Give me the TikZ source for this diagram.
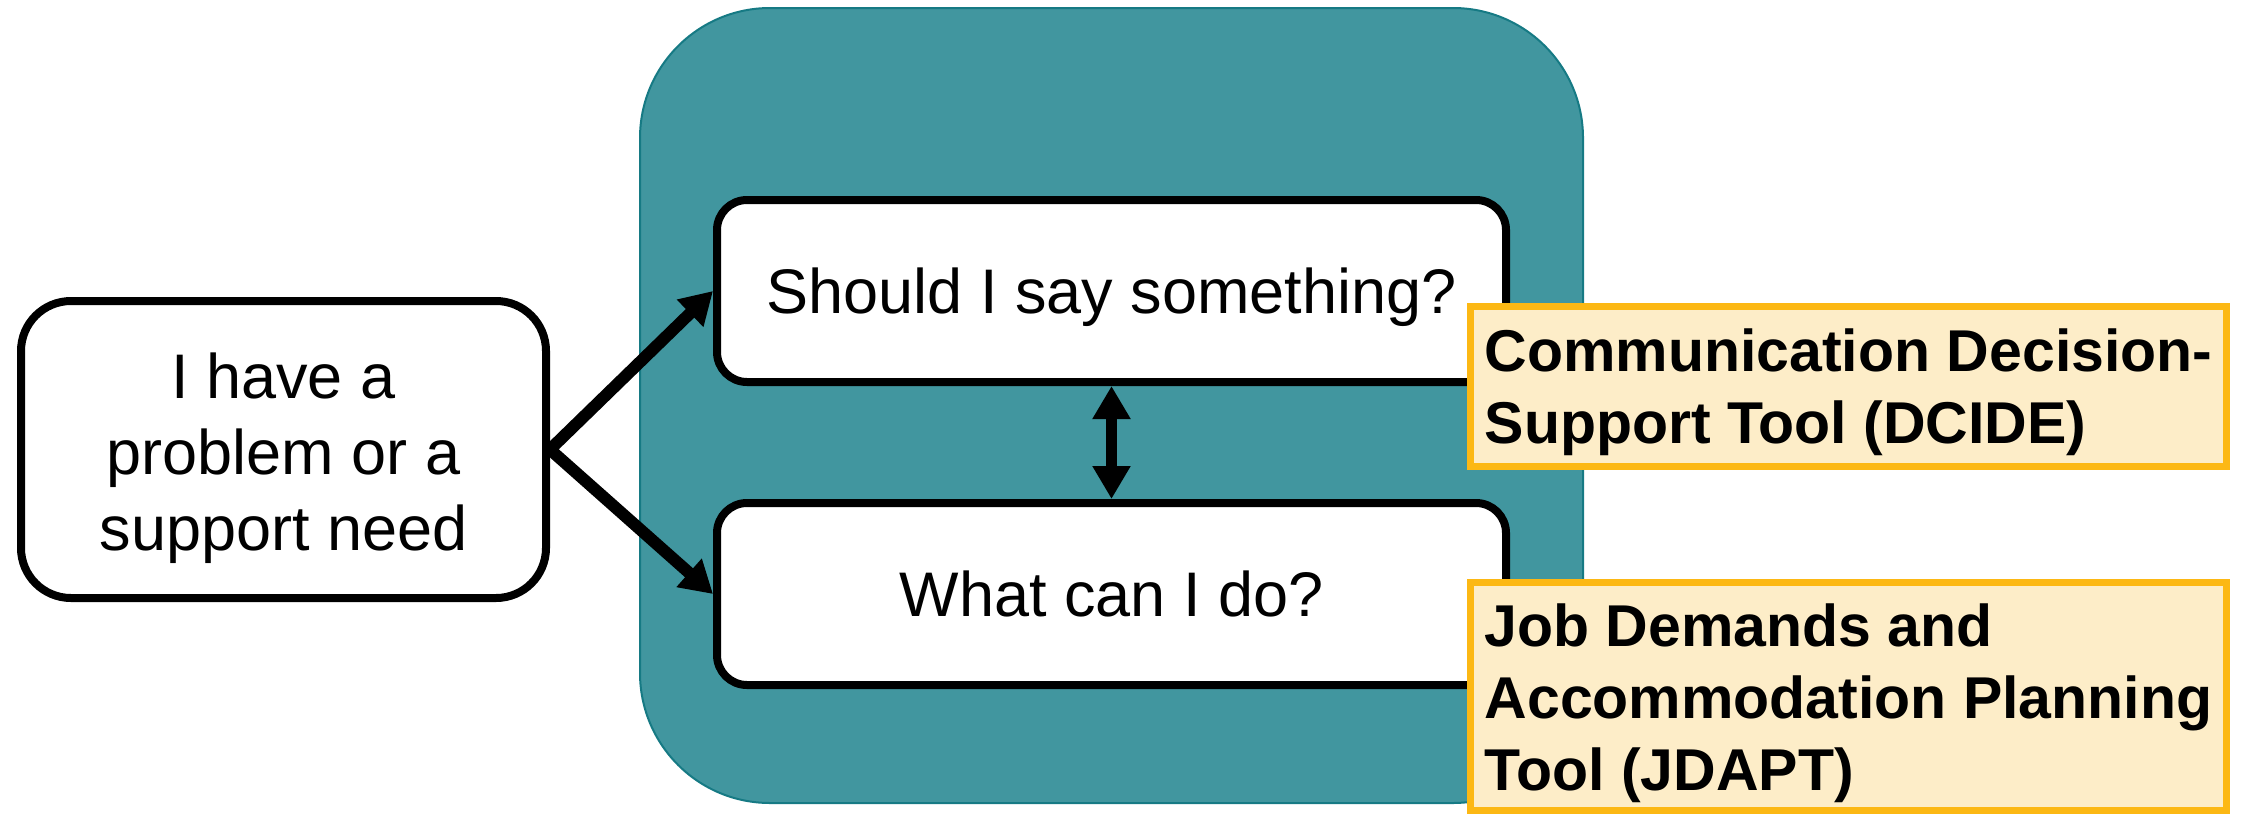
\documentclass[tikz,border=0pt]{standalone}
\usepackage{fontspec}
\setmainfont{Liberation Sans}
\usetikzlibrary{arrows.meta}
\definecolor{tealfill}{RGB}{65,150,159}
\definecolor{tealline}{RGB}{22,122,132}
\definecolor{toolline}{RGB}{252,184,20}
\definecolor{toolfill}{RGB}{253,237,200}
\begin{document}
\begin{tikzpicture}[x=1pt,y=-1pt,
  qbox/.style={draw=black,line width=8pt,fill=white,rounded corners=30pt,
    minimum width=789pt,minimum height=182pt,inner sep=0pt,
    text height=45pt,text depth=-9pt,
    font=\fontsize{63}{76}\selectfont},
  startbox/.style={draw=black,line width=8pt,fill=white,rounded corners=50pt,
    minimum width=525pt,minimum height=297pt,inner sep=0pt,
    font=\fontsize{63}{76}\selectfont},
  panel/.style={draw=tealline,line width=2pt,fill=tealfill,rounded corners=130pt,
    minimum width=943pt,minimum height=795pt,inner sep=0pt},
  tool/.style={draw=toolline,line width=7pt,fill=toolfill,minimum width=756pt,
    inner sep=0pt,align=left,font=\fontsize{59}{72}\selectfont\bfseries},
  flow/.style={line width=12pt,-{Triangle[length=32pt,width=36pt]}},
  link/.style={line width=11pt,{Triangle[length=33pt,width=36pt]}-{Triangle[length=33pt,width=36pt]}}
]
\useasboundingbox (0,0) rectangle (2242,814);
\node[panel] (pnl) at (1111.5,405.5) {};
\node[startbox] (need) at (283.5,449.5) {\raisebox{-10pt}[\height][\depth]{\begin{tabular}{@{}c@{}}I have a\\problem or a\\support need\end{tabular}}};
\node[qbox] (say) at (1111.5,291) {Should I say something?};
\node[qbox] (do) at (1111.5,594) {What can I do?};
\draw[flow] (need.east) -- (say.west);
\draw[flow] (need.east) -- (do.west);
\draw[link] (say.south) -- (do.north);
\node[tool,minimum height=160pt] (dcide) at (1848.5,386.5) {\raisebox{-7pt}[\height][\depth]{\begin{tabular}{@{}l@{}}Communication Decision-\\Support Tool (DCIDE)\end{tabular}}};
\node[tool,minimum height=228pt] (jdapt) at (1848.5,696.5) {\raisebox{-8pt}[\height][\depth]{\begin{tabular}{@{}l@{}}Job Demands and\\Accommodation Planning\\Tool (JDAPT)\end{tabular}}};
\end{tikzpicture}
\end{document}
